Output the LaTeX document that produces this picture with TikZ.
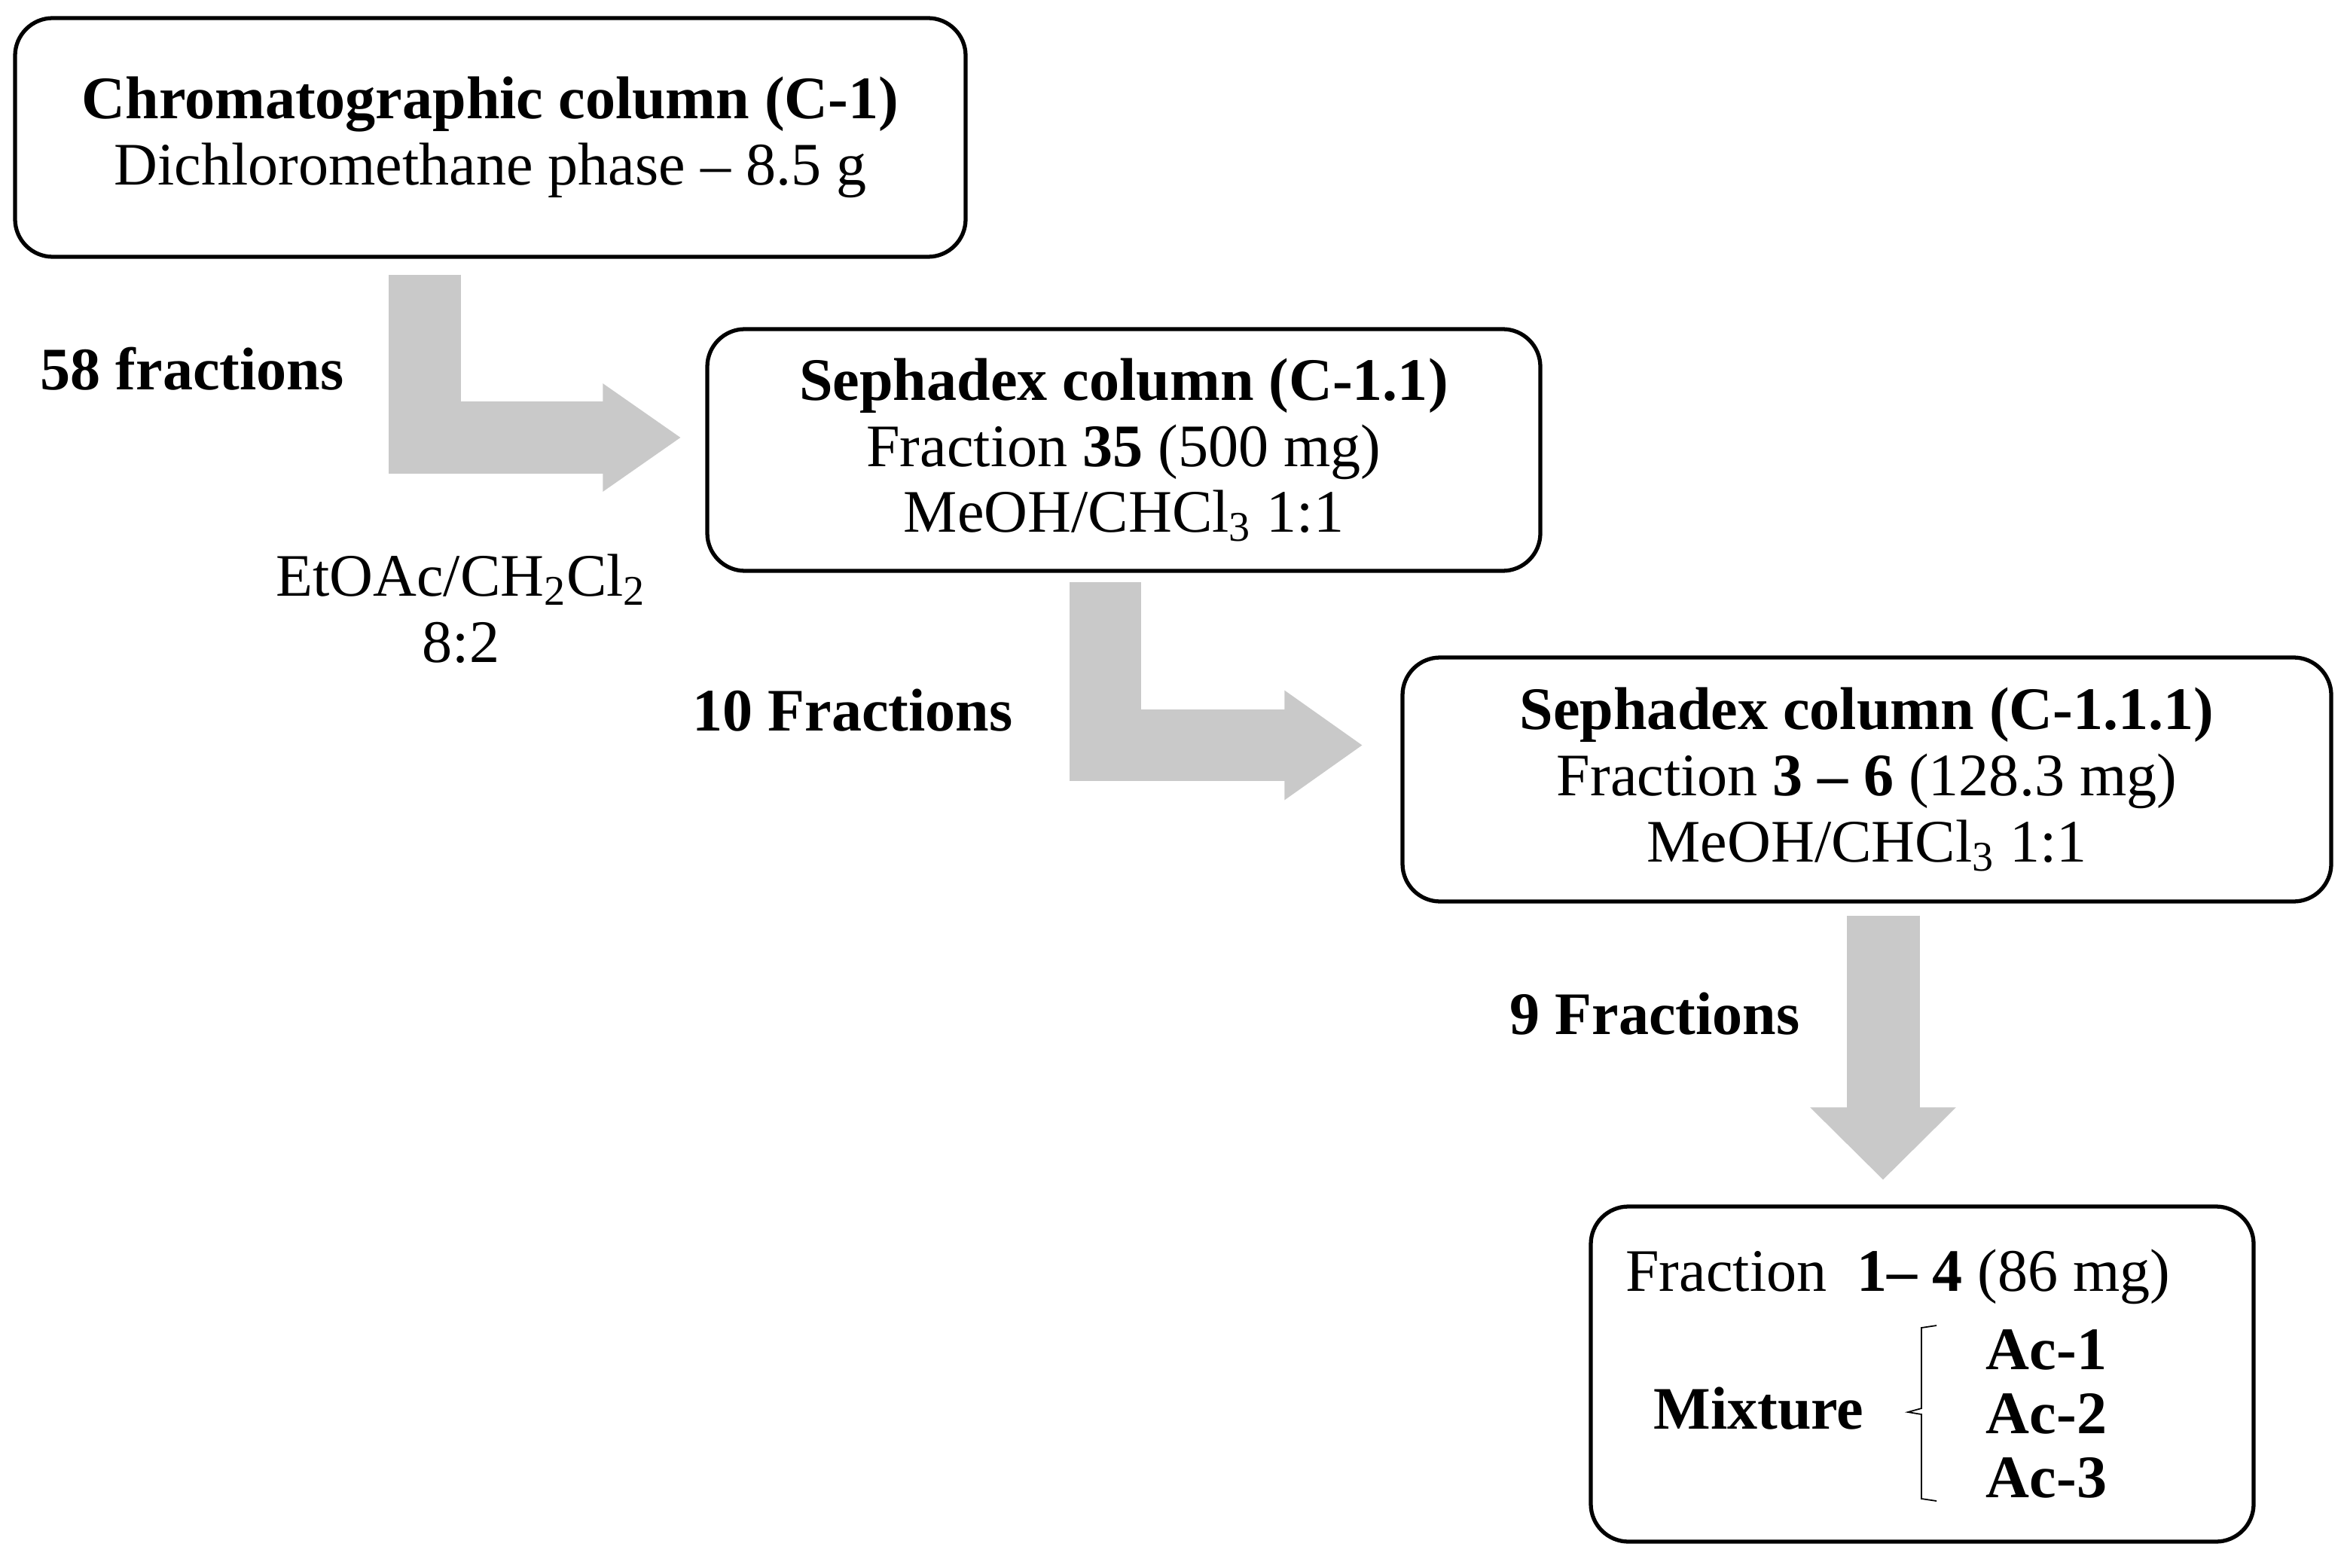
\documentclass[tikz,border=0pt]{standalone}
\usepackage{fontspec}
\setmainfont{Liberation Serif}
\usetikzlibrary{positioning, arrows.meta, calc}
\definecolor{arrowgray}{HTML}{C9C9C9}
\tikzset{
  box/.style={draw, rounded corners=5mm, line width=1.5pt, align=center,
    inner sep=0pt, font=\fontsize{22.8}{25}\selectfont},
  txt/.style={inner sep=0pt, align=center, font=\fontsize{22.8}{25}\selectfont},
  lbl/.style={inner sep=0pt, align=center, font=\fontsize{22.8}{25}\selectfont\bfseries},
  blk/.style={draw=arrowgray, line join=miter, line cap=butt},
}
\begin{document}
\begin{tikzpicture}
\useasboundingbox (0,0) rectangle (31.12,-20.82);

% Column boxes
\node[box, minimum width=12.62cm, minimum height=3.17cm] at (6.51,-1.825) (col)
  {\textbf{Chromatographic column (C-1)}\\Dichloromethane phase – 8.5 g};

\node[box, minimum width=11.06cm, minimum height=3.21cm] at (14.92,-5.975) (sep1)
  {\textbf{Sephadex column (C-1.1)}\\Fraction \textbf{35} (500 mg)\\MeOH/CHCl\textsubscript{3} 1:1};

\node[box, minimum width=12.33cm, minimum height=3.24cm] at (24.785,-10.35) (sep2)
  {\textbf{Sephadex column (C-1.1.1)}\\Fraction \textbf{3 – 6} (128.3 mg)\\MeOH/CHCl\textsubscript{3} 1:1};

\node[box, minimum width=8.80cm, minimum height=4.45cm] at (25.52,-18.245) (mix) {};

% Contents of the last box
\node[txt] at (25.20,-16.95) (frac) {Fraction\ \ \textbf{1– 4} (86 mg)};
\node[lbl] at (23.35,-18.70) (mixt) {Mixture};
\node[lbl, font=\fontsize{22.8}{24.2}\selectfont\bfseries] at (27.17,-18.77) (acs)
  {Ac-1\\Ac-2\\Ac-3};
\draw[line width=0.5pt] (25.71,-17.60) -- (25.51,-17.63) -- (25.51,-18.70)
  -- (25.33,-18.75) -- (25.51,-18.78) -- (25.51,-19.90) -- (25.71,-19.93);

% Step labels
\node[lbl] at (2.55,-4.90) (f58) {58 fractions};
\node[txt] at (6.12,-8.08) (elu) {EtOAc/CH\textsubscript{2}Cl\textsubscript{2}\\8:2};
\node[lbl] at (11.32,-9.43) (f10) {10 Fractions};
\node[lbl] at (21.97,-13.46) (f9) {9 Fractions};

% Block arrows
\coordinate (a1s) at ($(col.south)+(-0.87,-0.21)$);
\coordinate (a1e) at ($(sep1.west)+(-0.33,0.165)$);
\draw[blk, line width=9.6mm,
  -{Triangle[length=10.3mm, width=14.3mm, line width=1pt]}] (a1s) |- (a1e);

\coordinate (a2s) at ($(sep1.south)+(-0.245,-0.12)$);
\coordinate (a2e) at ($(sep2.west)+(-0.51,0.455)$);
\draw[blk, line width=9.5mm,
  -{Triangle[length=10.3mm, width=14.5mm, line width=1pt]}] (a2s) |- (a2e);

\coordinate (a3s) at ($(sep2.south)+(0.215,-0.16)$);
\coordinate (a3e) at ($(mix.north)+(-0.52,0.33)$);
\draw[blk, line width=9.7mm,
  -{Triangle[length=9.6mm, width=19.3mm, line width=1pt]}] (a3s) -- (a3s |- a3e);

\end{tikzpicture}
\end{document}
